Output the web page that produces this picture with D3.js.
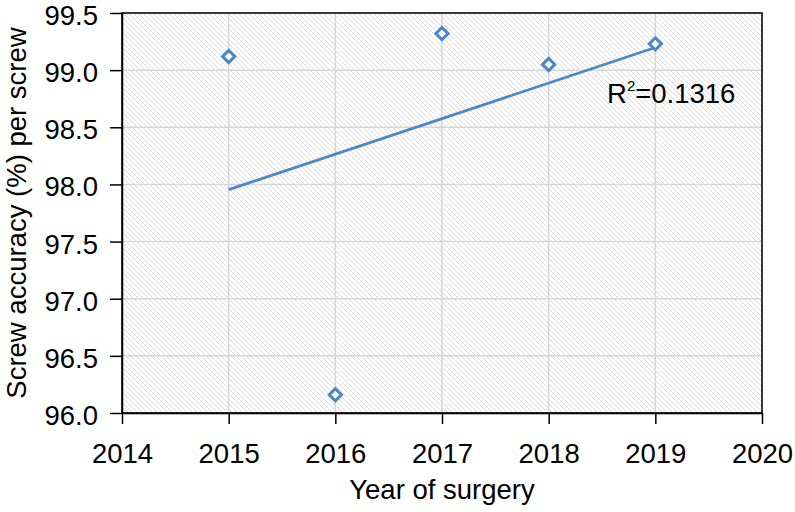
<!DOCTYPE html>
<html><head><meta charset="utf-8">
<script src="https://cdn.jsdelivr.net/npm/d3@7"></script>
<style>body{margin:0;background:#fff;} svg{display:block;}</style>
</head><body>
<svg id="c" width="795" height="512"></svg>
<script>
const years = [2015, 2016, 2017, 2018, 2019];
const accuracy = [99.12, 96.16, 99.32, 99.05, 99.23];
const xTicks = [2014, 2015, 2016, 2017, 2018, 2019, 2020];
const yTicks = [96.0, 96.5, 97.0, 97.5, 98.0, 98.5, 99.0, 99.5];
const r2Label = "0.1316";

const svg = d3.select("#c");
const m = {l:122, r:33, t:13, b:99};
const W = 795, H = 512;
const x = d3.scaleLinear().domain([2014, 2020]).range([m.l, W - m.r]);
const y = d3.scaleLinear().domain([96, 99.5]).range([H - m.b, m.t]);
const font = "'Liberation Sans', Arial, Helvetica, sans-serif";
const fs = "27.5px";

const defs = svg.append("defs");
const P = 5;
const pat = defs.append("pattern").attr("id","hatch").attr("patternUnits","userSpaceOnUse")
  .attr("width",P).attr("height",P);
pat.append("rect").attr("width",P).attr("height",P).attr("fill","#fff");
pat.append("path").attr("d",`M0,0 L${P},${P} M${-P/2},${P/2} L${P/2},${1.5*P} M${P/2},${-P/2} L${1.5*P},${P/2}`)
  .attr("stroke","#dcdcdc").attr("stroke-width",1);

svg.append("rect").attr("x",m.l).attr("y",m.t).attr("width",W-m.r-m.l).attr("height",H-m.b-m.t)
  .attr("fill","url(#hatch)");

// gridlines
svg.append("g").selectAll("line").data(yTicks).join("line")
  .attr("x1",m.l).attr("x2",W-m.r).attr("y1",d=>y(d)).attr("y2",d=>y(d))
  .attr("stroke","#d6d6d6").attr("stroke-width",1.5);
svg.append("g").selectAll("line").data(xTicks).join("line")
  .attr("y1",m.t).attr("y2",H-m.b).attr("x1",d=>x(d)).attr("x2",d=>x(d))
  .attr("stroke","#d6d6d6").attr("stroke-width",1.5);

// frame
svg.append("rect").attr("x",m.l).attr("y",m.t).attr("width",W-m.r-m.l).attr("height",H-m.b-m.t)
  .attr("fill","none").attr("stroke","#000").attr("stroke-width",1.5);

const xAxis = svg.append("g").attr("transform",`translate(0,${H-m.b})`)
  .call(d3.axisBottom(x).tickValues(xTicks).tickFormat(d3.format("d")).tickSize(11).tickPadding(19).tickSizeOuter(0));
const yAxis = svg.append("g").attr("transform",`translate(${m.l},0)`)
  .call(d3.axisLeft(y).tickValues(yTicks).tickFormat(d3.format(".1f")).tickSize(12).tickPadding(12).tickSizeOuter(0));
[xAxis, yAxis].forEach(g=>{
  g.select(".domain").attr("stroke","#000").attr("stroke-width",1.5);
  g.selectAll(".tick line").attr("stroke","#000").attr("stroke-width",1.5);
  g.selectAll(".tick text").attr("fill","#000").style("font-family",font).style("font-size",fs);
});
yAxis.selectAll(".tick text").attr("dy","0.42em");

// trend line (least squares)
const mx = d3.mean(years), my = d3.mean(accuracy);
const sxy = d3.sum(years.map((v,i)=>(v-mx)*(accuracy[i]-my)));
const sxx = d3.sum(years.map(v=>(v-mx)**2));
const slope = sxy/sxx, icpt = my - slope*mx;
const x0 = d3.min(years), x1 = d3.max(years);
svg.append("line").attr("x1",x(x0)).attr("y1",y(icpt+slope*x0)).attr("x2",x(x1)).attr("y2",y(icpt+slope*x1))
  .attr("stroke","#4a89c9").attr("stroke-width",2.8);

// markers
const sym = d3.symbol().type(d3.symbolDiamond2).size(95);
svg.append("g").selectAll("path").data(years).join("path")
  .attr("d",sym).attr("transform",(d,i)=>`translate(${x(d)},${y(accuracy[i])})`)
  .attr("fill","#fff").attr("stroke","#4a86c8").attr("stroke-width",3);

// R2 label
const t = svg.append("text").attr("x",607).attr("y",103).style("font-family",font).style("font-size",fs).attr("fill","#000");
t.append("tspan").text("R");
t.append("tspan").text("2").attr("dy",-12).style("font-size","15px");
t.append("tspan").text("=" + r2Label).attr("dy",12);

// axis titles
svg.append("text").attr("x",x(2017)).attr("y",499).attr("text-anchor","middle")
  .style("font-family",font).style("font-size",fs).text("Year of surgery");
svg.append("text").attr("transform",`translate(26,${(m.t+H-m.b)/2}) rotate(-90)`).attr("text-anchor","middle")
  .style("font-family",font).style("font-size",fs).text("Screw accuracy (%) per screw");
</script>
</body></html>
